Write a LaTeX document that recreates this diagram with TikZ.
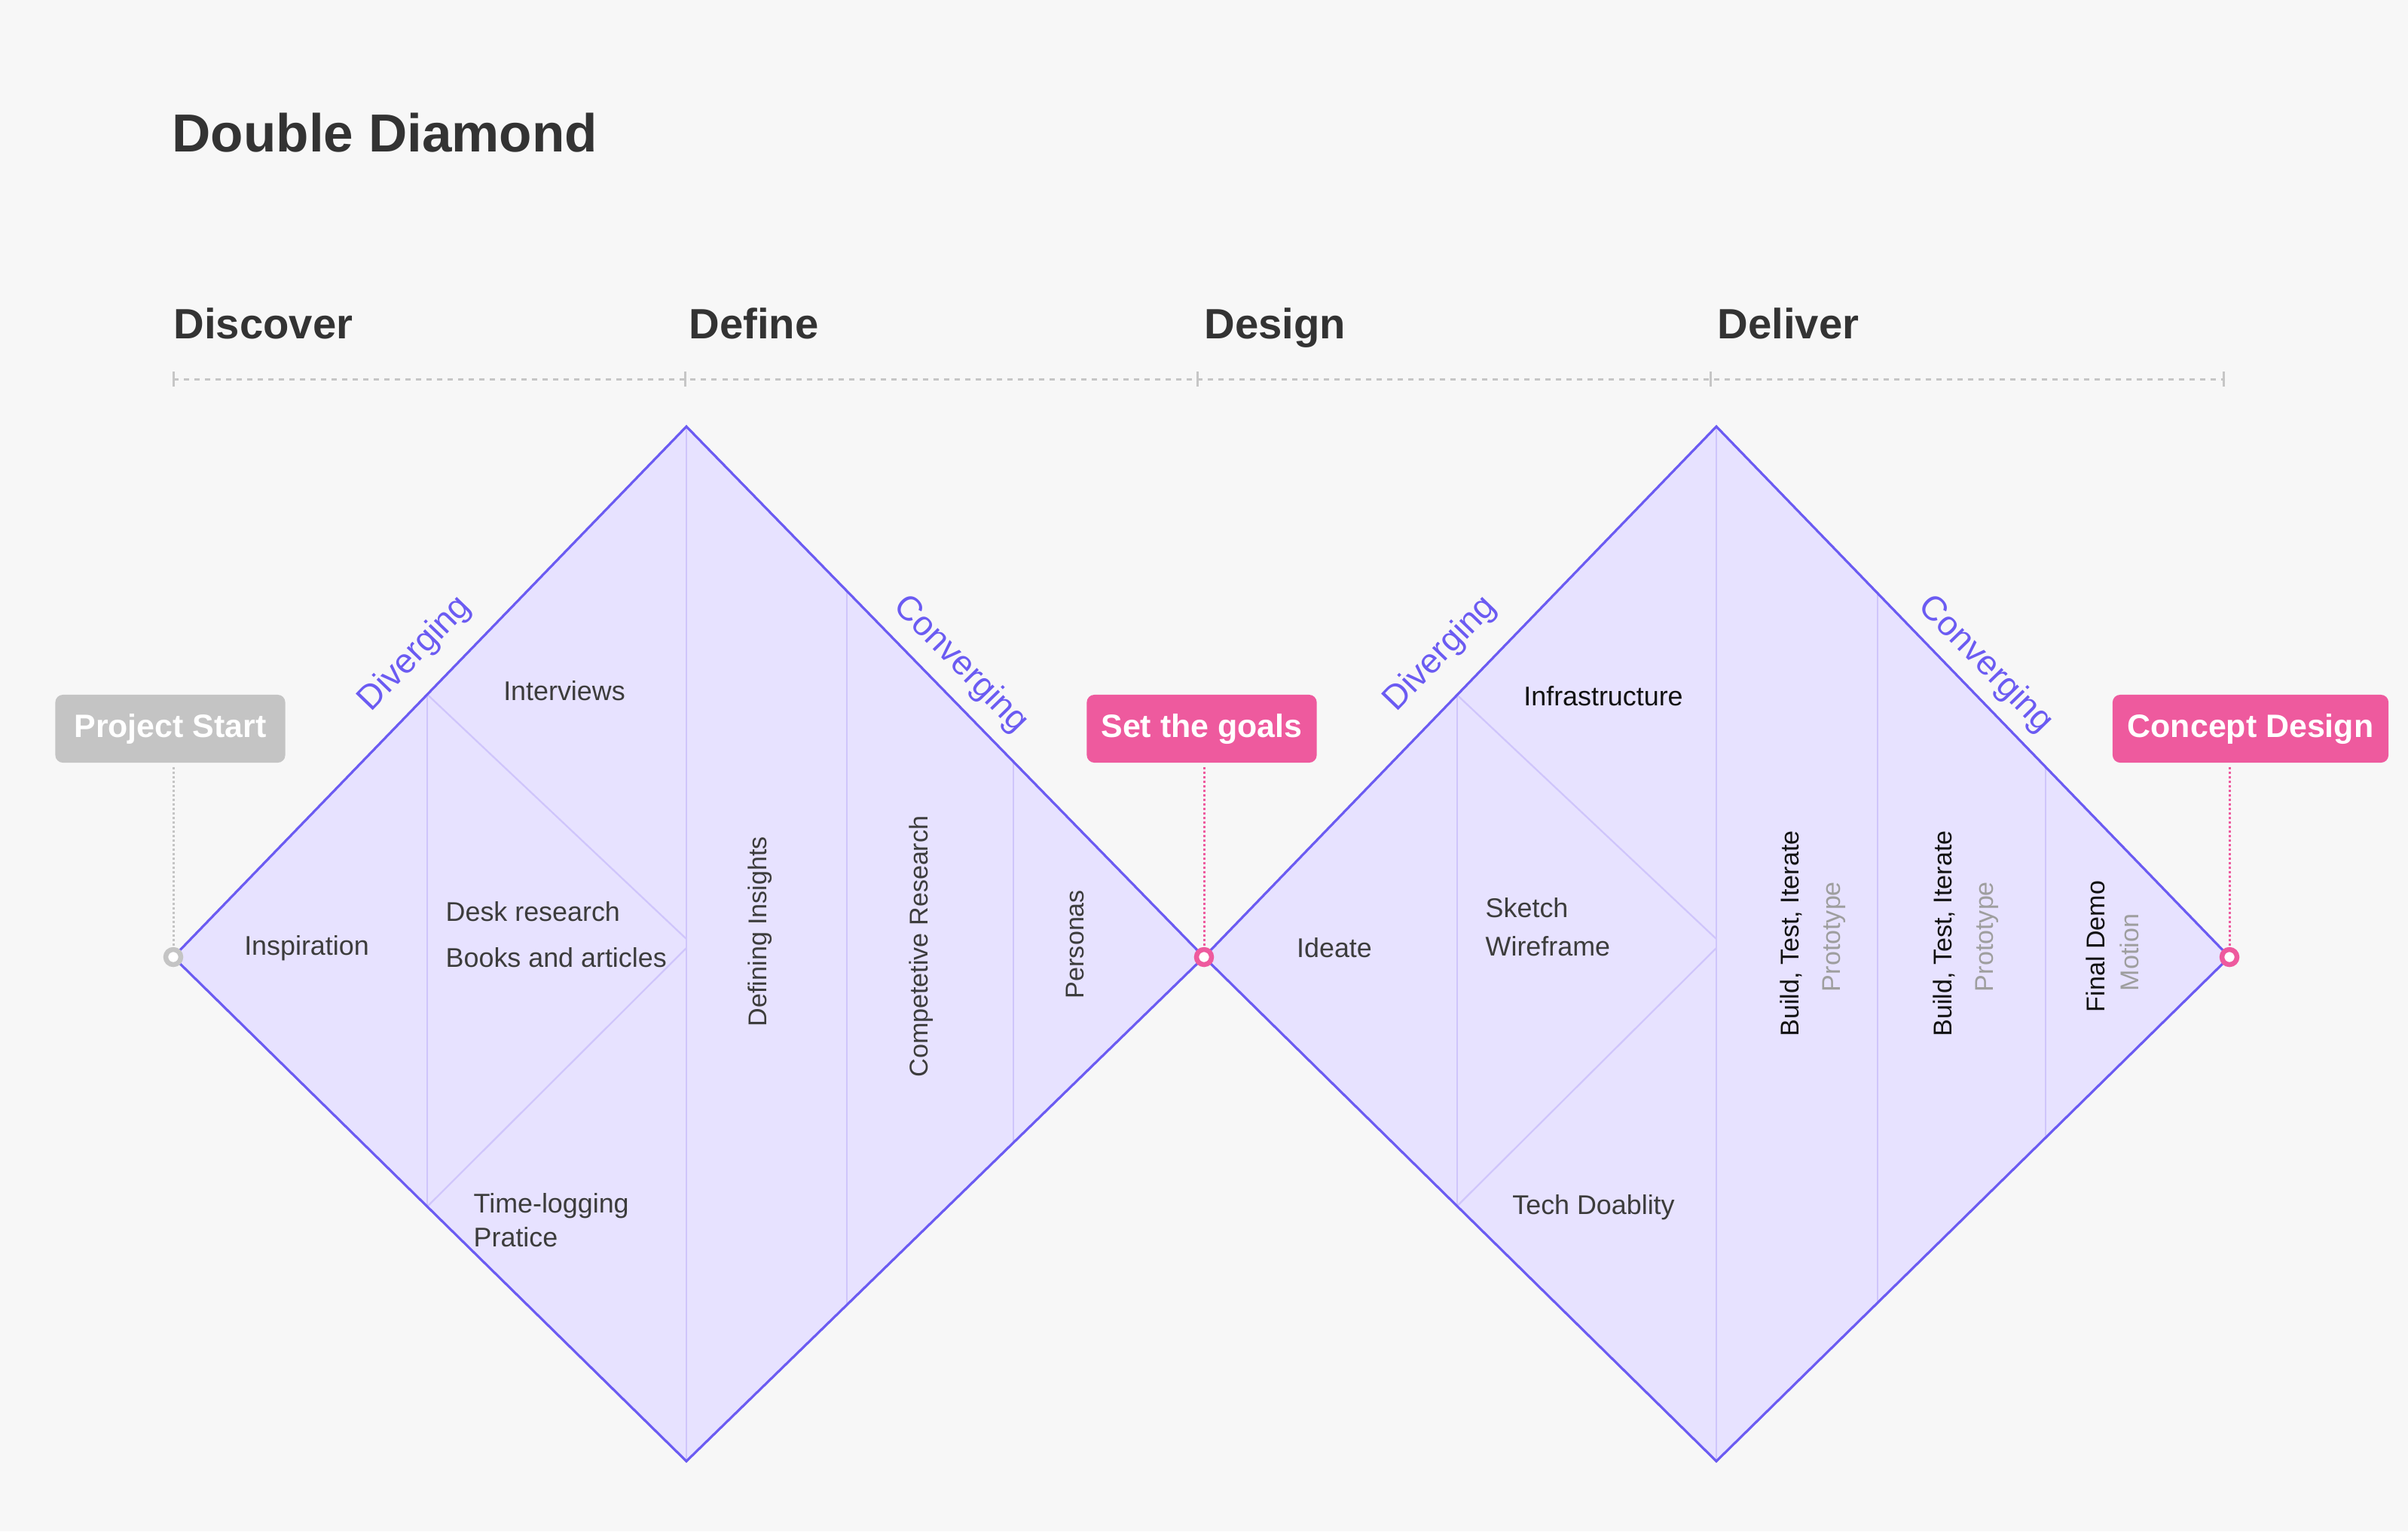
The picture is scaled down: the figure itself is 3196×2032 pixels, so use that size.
\documentclass[tikz,border=0pt]{standalone}
\usepackage{fontspec}
\setmainfont{Liberation Sans}
\usetikzlibrary{calc}
\definecolor{bg}{HTML}{F7F7F7}
\definecolor{dfill}{HTML}{E7E2FF}
\definecolor{dedge}{HTML}{6B5BF2}
\definecolor{dinner}{HTML}{CFC5FB}
\definecolor{ink}{HTML}{333333}
\definecolor{txt}{HTML}{3C3C3C}
\definecolor{dark}{HTML}{111111}
\definecolor{soft}{HTML}{9E9E9E}
\definecolor{pinkc}{HTML}{EE5A9E}
\definecolor{grayc}{HTML}{C4C4C4}
\definecolor{rulec}{HTML}{C6C6C6}
\begin{document}
\begin{tikzpicture}[x=0.01cm,y=-0.01cm,
  every node/.style={inner sep=0pt},
  titlest/.style={font=\fontsize{20.2}{24}\selectfont\bfseries, text=ink, anchor=base west},
  phasest/.style={font=\fontsize{16}{19}\selectfont\bfseries, text=ink, anchor=base west},
  rulest/.style={draw=rulec, line width=0.03cm, dash pattern=on 0.07cm off 0.07cm},
  tickst/.style={draw=rulec, line width=0.03cm},
  edgest/.style={draw=dedge, line width=0.032cm, line join=miter},
  innerst/.style={draw=dinner, line width=0.022cm},
  elabel/.style={font=\fontsize{13}{15}\selectfont, text=dedge},
  lbl/.style={font=\fontsize{10.2}{12}\selectfont, text=txt},
  lblw/.style={lbl, anchor=west},
  vlbl/.style={font=\fontsize{9.7}{12}\selectfont, text=txt, rotate=90},
  vdark/.style={vlbl, text=dark},
  vsoft/.style={vlbl, text=soft},
  boxst/.style={rounded corners=0.1cm, minimum width=3.05cm, minimum height=0.9cm, font=\fontsize{12.2}{14}\selectfont\bfseries, text=white},
  dotst/.style={line width=0.03cm, dash pattern=on 0.03cm off 0.03cm, shorten <=0.05cm},
  ringst/.style={circle, minimum size=0.2cm, line width=0.065cm, fill=white},
]
\fill[bg] (0,0) rectangle (3196,2032);
\useasboundingbox (0,0) rectangle (3196,2032);

% title and phases
\node[titlest] (title) at (228,201) {Double Diamond};
\node[phasest] (ph1) at (230,449) {Discover};
\node[phasest] (ph2) at (914,449) {Define};
\node[phasest] (ph3) at (1598,449) {Design};
\node[phasest] (ph4) at (2279,449) {Deliver};

% rule with ticks
\coordinate (r0) at (230,503);
\coordinate (r4) at (2951,503);
\draw[rulest] (r0) -- (r4);
\foreach \xx in {230,909,1589,2270,2951}{
  \draw[tickst] (\xx,493) -- (\xx,513);
}

% diamond vertices
\coordinate (L1) at (230,1270);
\coordinate (T1) at (911,566);
\coordinate (R1) at (1598,1270);
\coordinate (B1) at (911,1939);
\coordinate (T2) at (2278,566);
\coordinate (R2) at (2959,1270);
\coordinate (B2) at (2278,1939);
\coordinate (M1a) at (911,1246);
\coordinate (M1b) at (911,1258);
\coordinate (M2a) at (2278,1246);
\coordinate (M2b) at (2278,1258);

\fill[dfill] (L1) -- (T1) -- (R1) -- (B1) -- cycle;
\fill[dfill] (R1) -- (T2) -- (R2) -- (B2) -- cycle;

% inner lines, left diamond
\draw[innerst] ($(L1)!0.495!(T1)$) -- ($(L1)!0.495!(B1)$);
\draw[innerst] (T1) -- (B1);
\draw[innerst] ($(T1)!0.31!(R1)$) -- ($(B1)!0.31!(R1)$);
\draw[innerst] ($(T1)!0.632!(R1)$) -- ($(B1)!0.632!(R1)$);
\draw[innerst] ($(L1)!0.495!(T1)$) -- (M1a);
\draw[innerst] (M1b) -- ($(L1)!0.495!(B1)$);

% inner lines, right diamond
\draw[innerst] ($(R1)!0.494!(T2)$) -- ($(R1)!0.494!(B2)$);
\draw[innerst] (T2) -- (B2);
\draw[innerst] ($(T2)!0.314!(R2)$) -- ($(B2)!0.314!(R2)$);
\draw[innerst] ($(T2)!0.642!(R2)$) -- ($(B2)!0.642!(R2)$);
\draw[innerst] ($(R1)!0.494!(T2)$) -- (M2a);
\draw[innerst] (M2b) -- ($(R1)!0.494!(B2)$);

% edges
\draw[edgest] (L1) -- (T1) -- (R1) -- (B1) -- cycle;
\draw[edgest] (R1) -- (T2) -- (R2) -- (B2) -- cycle;

% milestone boxes
\node[boxst, fill=grayc] (ps) at (226,967) {Project Start};
\node[boxst, fill=pinkc] (sg) at (1595,967) {Set the goals};
\node[boxst, fill=pinkc, minimum width=3.66cm] (cd) at (2987,967) {Concept Design};

% rings
\node[ringst, draw=grayc] (c0) at (L1) {};
\node[ringst, draw=pinkc] (c1) at (R1) {};
\node[ringst, draw=pinkc] (c2) at (R2) {};

\draw[dotst, draw=grayc] (c0 |- ps.south) -- (c0.north);
\draw[dotst, draw=pinkc] (c1 |- sg.south) -- (c1.north);
\draw[dotst, draw=pinkc] (c2 |- cd.south) -- (c2.north);

% edge labels
\node[elabel, rotate=46] (dv1) at (551,868) {Diverging};
\node[elabel, rotate=-45.7] (cv1) at (1275,882) {Converging};
\node[elabel, rotate=46] (dv2) at (1912,868) {Diverging};
\node[elabel, rotate=-45.7] (cv2) at (2635,882) {Converging};

% left diamond labels
\node[lbl] (iv) at (749,917) {Interviews};
\node[lbl] (insp) at (407,1258) {Inspiration};
\node[lblw] (desk) at (591,1210) {Desk research};
\node[lblw] (books) at (591,1271) {Books and articles};
\node[lblw] (tl) at (628,1600) {Time-logging};
\node[lblw] (pr) at (628,1642) {Pratice};
\node[vlbl] (di) at (1009,1236) {Defining Insights};
\node[vlbl] (cr) at (1223,1256) {Competetive Research};
\node[vlbl] (pe) at (1427,1253) {Personas};

% right diamond labels
\node[lbl] (ide) at (1771,1258) {Ideate};
\node[lbl, text=dark] (inf) at (2128,924) {Infrastructure};
\node[lblw] (sk) at (1971,1205) {Sketch};
\node[lblw] (wf) at (1971,1256) {Wireframe};
\node[lbl] (td) at (2115,1602) {Tech Doablity};
\node[vdark] (bt1) at (2377,1239) {Build, Test, Iterate};
\node[vsoft] (pt1) at (2434,1243) {Prototype};
\node[vdark] (bt2) at (2580,1239) {Build, Test, Iterate};
\node[vsoft] (pt2) at (2637,1243) {Prototype};
\node[vdark] (fd) at (2781,1256) {Final Demo};
\node[vsoft] (mo) at (2826,1264) {Motion};
\end{tikzpicture}
\end{document}
